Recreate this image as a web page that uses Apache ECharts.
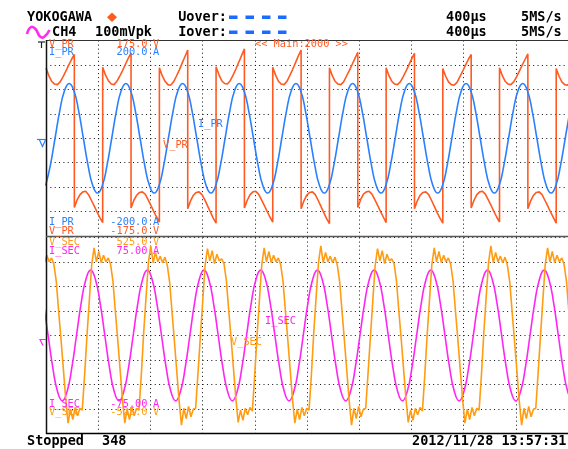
<!DOCTYPE html>
<html><head><meta charset="utf-8">
<script src="https://cdn.jsdelivr.net/npm/echarts@6/dist/echarts.min.js"></script>
<style>html,body{margin:0;padding:0;background:#fff;}#c{width:568px;height:449px;}</style>
</head><body><div id="c"></div>
<script>
// x unit: record sample index (Main:2000 points, 0.2 us each)
const recordLength = 2000;
const samplesPerDiv = 200;

// V_PR (V): half-cycles, 11 readings each, half period in samples
const vPrHalfPeriod = 108.6;
const vPrHalfCycles = [
  [126, 112, 102, 97, 96, 101, 110, 120, 131, 141, 150],
  [-124, -110, -101, -96, -95, -101, -111, -121, -132, -142, -151],
  [127, 113, 103, 97, 96, 102, 111, 121, 132, 143, 153],
  [-125, -111, -102, -97, -96, -100, -110, -120, -131, -141, -150],
  [126, 112, 102, 96, 95, 101, 111, 122, 134, 146, 158],
  [-126, -112, -102, -97, -96, -101, -110, -121, -132, -143, -152],
  [128, 114, 103, 98, 97, 103, 113, 124, 136, 148, 160],
  [-125, -111, -101, -96, -95, -100, -110, -120, -131, -141, -150],
  [127, 113, 102, 97, 96, 102, 112, 123, 135, 147, 158],
  [-126, -112, -102, -97, -96, -101, -111, -122, -133, -144, -153],
  [126, 112, 102, 97, 96, 101, 111, 121, 132, 143, 154],
  [-124, -110, -100, -96, -95, -100, -110, -120, -131, -141, -151],
  [126, 112, 102, 97, 96, 101, 110, 120, 131, 142, 152],
  [-126, -112, -102, -97, -96, -101, -111, -122, -133, -143, -152],
  [125, 111, 101, 96, 95, 100, 110, 120, 131, 141, 150],
  [-125, -111, -101, -96, -95, -100, -110, -120, -131, -141, -150],
  [126, 112, 102, 97, 96, 101, 110, 120, 131, 141, 151],
  [-126, -112, -102, -97, -96, -101, -111, -121, -132, -142, -152],
  [125, 111, 101, 96, 95, 100, 110, 120, 131, 141, 150]
];

// I_PR (A): readings every 18.1 samples starting at -1.6
const iPrStart = -1.6, iPrStep = 18.1;
const iPrValues = [
  -97,-56,0,56,97,112,97,56,0,-56,-97,-112,
  -97,-56,0,56,97,112,97,56,0,-56,-97,-112,
  -97,-56,0,56,97,112,97,56,0,-56,-97,-112,
  -97,-56,0,56,97,112,97,56,0,-56,-97,-112,
  -97,-56,0,56,97,112,97,56,0,-56,-97,-112,
  -97,-56,0,56,97,112,97,56,0,-56,-97,-112,
  -97,-56,0,56,97,112,97,56,0,-56,-97,-112,
  -97,-56,0,56,97,112,97,56,0,-56,-97,-112,
  -97,-56,0,56,97,112,97,56,0,-56,-97,-112,
  -97,-56,0,56
];

// I_SEC (A): readings every 18.1 samples starting at -9.9
const iSecStart = -9.9, iSecStep = 18.1;
const iSecValues = [
  25,0,-25,-43,-50,-43,-25,0,25,43,50,43,
  25,0,-25,-43,-50,-43,-25,0,25,43,50,43,
  25,0,-25,-43,-50,-43,-25,0,25,43,50,43,
  25,0,-25,-43,-50,-43,-25,0,25,43,50,43,
  25,0,-25,-43,-50,-43,-25,0,25,43,50,43,
  25,0,-25,-43,-50,-43,-25,0,25,43,50,43,
  25,0,-25,-43,-50,-43,-25,0,25,43,50,43,
  25,0,-25,-43,-50,-43,-25,0,25,43,50,43,
  25,0,-25,-43,-50,-43,-25,0,25,43,50,43,
  25,0,-25,-43,-50
];

// V_SEC (V): readings every 9.05 samples starting at -5.85
const vSecStart = -5.85, vSecStep = 9.05;
const vSecValues = [
  390,430,395,415,380,290,130,-20,-180,-340,-470,-395,-450,-385,-430,-390,-400,-210,
  0,190,380,470,395,450,390,430,395,415,380,290,130,-20,-180,-340,-470,-395,-450,-385,-430,-390,-400,-210,
  15,205,390,480,390,445,395,425,390,420,375,285,125,-30,-190,-350,-480,-390,-445,-380,-435,-395,-390,-200,
  -5,185,375,465,400,455,385,435,400,410,385,295,135,-15,-175,-335,-465,-400,-455,-390,-425,-385,-405,-215,
  0,190,380,470,395,450,390,430,395,415,380,290,130,-20,-180,-340,-470,-395,-450,-385,-430,-390,-400,-210,
  15,205,390,480,390,445,395,425,390,420,375,285,125,-30,-190,-350,-480,-390,-445,-380,-435,-395,-390,-200,
  -5,185,375,465,400,455,385,435,400,410,385,295,135,-15,-175,-335,-465,-400,-455,-390,-425,-385,-405,-215,
  0,190,380,470,395,450,390,430,395,415,380,290,130,-20,-180,-340,-470,-395,-450,-385,-430,-390,-400,-210,
  15,205,390,480,390,445,395,425,390,420,375,285,125,-30,-190,-350,-480,-390,-445,-380,-435,-395,-390,-200,
  0,190,380,470,395,450,390,430,395,415,380,290,130
];

// scale labels
const topLabels = {vpr: ['175.0', '-175.0'], ipr: ['200.0', '-200.0']};
const botLabels = {vsec: ['525.0', '-525.0'], isec: ['75.00', '-75.00']};

const vPrData = [];
vPrHalfCycles.forEach((vals, n) => vals.forEach((v, m) => vPrData.push([n * vPrHalfPeriod + m * vPrHalfPeriod / 10, v])));
const iPrData = iPrValues.map((v, i) => [iPrStart + i * iPrStep, v]);
const iSecData = iSecValues.map((v, i) => [iSecStart + i * iSecStep, v]);
const vSecData = vSecValues.map((v, i) => [vSecStart + i * vSecStep, v]);

const C_VPR = '#ff5a22', C_IPR = '#2a80ff', C_VSEC = '#ff9c12', C_ISEC = '#ff26f2';
const MONO = '"DejaVu Sans Mono", "Liberation Mono", monospace';
const FS = '10.3px ' + MONO;
const FH = 'bold 13.5px ' + MONO;

function txt(x, y, s, color, font, align) {
  return {type: 'text', x: x, y: y, z: 100, silent: true,
    style: {text: s, fill: color, font: font, align: align || 'left', verticalAlign: 'middle',
      textAlign: align || 'left', textVerticalAlign: 'middle'}};
}
function line(x1, y1, x2, y2, color, w) {
  return {type: 'line', z: 90, silent: true, shape: {x1: x1, y1: y1, x2: x2, y2: y2}, style: {stroke: color, lineWidth: w}};
}
function pl(points, color, w, smooth) {
  return {type: 'polyline', z: 100, silent: true, shape: {points: points, smooth: smooth || 0}, style: {stroke: color, lineWidth: w, fill: null}};
}

const graphics = [
  txt(27, 17, 'YOKOGAWA', '#000', FH),
  {type: 'polygon', z: 100, silent: true, shape: {points: [[112, 12.5], [117, 17.2], [112, 22], [107, 17.2]]}, style: {fill: '#ff5a1e'}},
  txt(227, 17, 'Uover:', '#000', FH, 'right'),
  txt(227, 32, 'Iover:', '#000', FH, 'right'),
  txt(446, 17, '400\u00b5s', '#000', FH), txt(446, 32, '400\u00b5s', '#000', FH),
  txt(521, 17, '5MS/s', '#000', FH), txt(521, 32, '5MS/s', '#000', FH),
  txt(52, 32, 'CH4', '#000', FH), txt(95, 32, '100mVpk', '#000', FH),
  txt(27, 441, 'Stopped', '#000', FH), txt(102, 441, '348', '#000', FH),
  txt(412, 441, '2012/11/28 13:57:31', '#000', FH),
  pl([[27, 34], [31, 27], [35.5, 29], [40, 36.5], [44, 37], [49.5, 30]], '#ff2cf0', 2.6, 0.5),
  // frame
  line(46, 40.5, 568, 40.5, '#333', 1.2),
  line(46.5, 40, 46.5, 434, '#111', 1.5),
  line(46, 236.5, 568, 236.5, '#555', 1.5),
  line(46, 433.5, 568, 433.5, '#000', 1.5),
  // level markers
  pl([[37, 139.5], [46, 139.5]], C_IPR, 1.2),
  pl([[39.5, 140], [42.5, 146.5], [45.5, 140]], C_IPR, 1.2),
  pl([[38, 42], [45, 42]], '#222', 1.2),
  pl([[41.5, 42], [41.5, 48]], '#222', 1.2),
  pl([[46, 339.5], [40, 339.5], [43, 345.5]], C_ISEC, 1.2),
  // panel labels
  txt(49, 44, 'V_PR', C_VPR, FS), txt(147.5, 44, topLabels.vpr[0], C_VPR, FS, 'right'), txt(153, 44, 'V', C_VPR, FS),
  txt(49, 52, 'I_PR', C_IPR, FS), txt(147.5, 52, topLabels.ipr[0], C_IPR, FS, 'right'), txt(153, 52, 'A', C_IPR, FS),
  txt(255, 44, '<< Main:2000 >>', C_VPR, FS),
  txt(49, 222, 'I_PR', C_IPR, FS), txt(147.5, 222, topLabels.ipr[1], C_IPR, FS, 'right'), txt(153, 222, 'A', C_IPR, FS),
  txt(49, 231, 'V_PR', C_VPR, FS), txt(147.5, 231, topLabels.vpr[1], C_VPR, FS, 'right'), txt(153, 231, 'V', C_VPR, FS),
  txt(49, 242.7, 'V_SEC', C_VSEC, FS), txt(147.5, 242.7, botLabels.vsec[0], C_VSEC, FS, 'right'), txt(153, 242.7, 'V', C_VSEC, FS),
  txt(49, 251.7, 'I_SEC', C_ISEC, FS), txt(147.5, 251.7, botLabels.isec[0], C_ISEC, FS, 'right'), txt(153, 251.7, 'A', C_ISEC, FS),
  txt(49, 404, 'I_SEC', C_ISEC, FS), txt(147.5, 404, botLabels.isec[1], C_ISEC, FS, 'right'), txt(153, 404, 'A', C_ISEC, FS),
  txt(49, 412, 'V_SEC', C_VSEC, FS), txt(147.5, 412, botLabels.vsec[1], C_VSEC, FS, 'right'), txt(153, 412, 'V', C_VSEC, FS),
  txt(198, 124, 'I_PR', C_IPR, FS), txt(163, 145, 'V_PR', C_VPR, FS),
  txt(265, 321, 'I_SEC', C_ISEC, FS), txt(231, 342.5, 'V_SEC', C_VSEC, FS)
];
[229, 245.5, 262, 278].forEach(function (x) {
  graphics.push({type: 'rect', z: 100, silent: true, shape: {x: x, y: 15.5, width: 8.5, height: 3.5}, style: {fill: '#1a6cff'}});
  graphics.push({type: 'rect', z: 100, silent: true, shape: {x: x, y: 30.5, width: 8.5, height: 3.5}, style: {fill: '#1a6cff'}});
});

function xAx(gi) {
  return {gridIndex: gi, type: 'value', min: 0, max: recordLength, interval: samplesPerDiv,
    axisLine: {show: false}, axisTick: {show: false}, axisLabel: {show: false},
    splitLine: {show: true, lineStyle: {color: '#111', width: 1, type: [1, 3.07]}}};
}
function yAx(gi, lim, showSplit) {
  return {gridIndex: gi, type: 'value', min: -lim, max: lim, interval: lim / 4,
    axisLine: {show: false}, axisTick: {show: false}, axisLabel: {show: false},
    splitLine: {show: showSplit, lineStyle: {color: '#111', width: 1, type: [1, 3.35]}}};
}
function ser(xi, yi, data, color, smooth) {
  return {type: 'line', xAxisIndex: xi, yAxisIndex: yi, data: data, symbol: 'none', smooth: smooth || false,
    lineStyle: {color: color, width: 1.6}, silent: true, animation: false};
}

const chart = echarts.init(document.getElementById('c'), null, {renderer: 'canvas'});
chart.setOption({
  animation: false,
  backgroundColor: '#fff',
  grid: [{left: 46, top: 40.5, width: 522, height: 195.5}, {left: 46, top: 237.5, width: 522, height: 196}],
  xAxis: [xAx(0), xAx(1)],
  yAxis: [yAx(0, 175, true), yAx(0, 200, false), yAx(1, 525, true), yAx(1, 75, false)],
  series: [
    ser(0, 0, vPrData, C_VPR),
    ser(0, 1, iPrData, C_IPR, 0.5),
    ser(1, 3, iSecData, C_ISEC, 0.5),
    ser(1, 2, vSecData, C_VSEC)
  ],
  graphic: graphics
});
</script></body></html>
